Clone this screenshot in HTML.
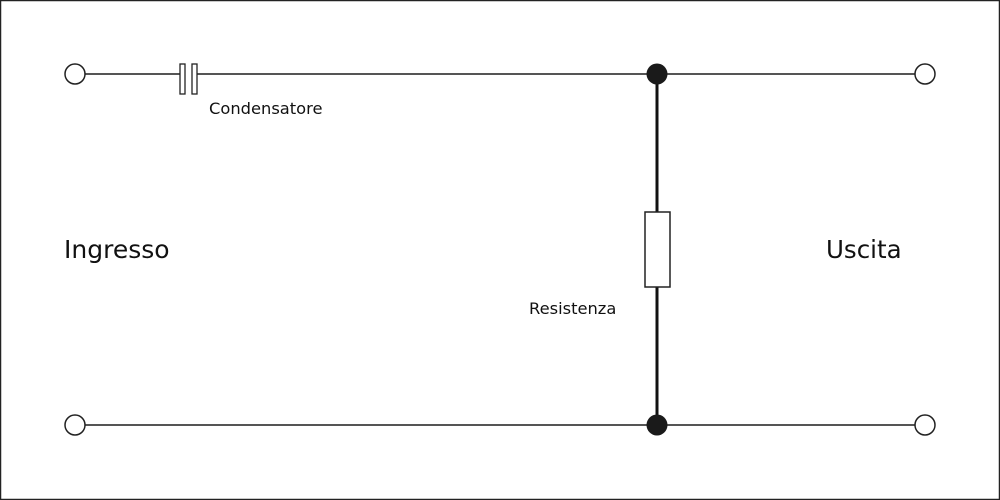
<!DOCTYPE html>
<html><head><style>body{margin:0;background:#fff}svg{display:block}</style></head><body>
<svg width="1000" height="500" xmlns="http://www.w3.org/2000/svg" font-family="'DejaVu Sans','Liberation Sans',sans-serif">
<rect x="0.5" y="0.5" width="999" height="499" fill="#fff" stroke="#222" stroke-width="1.5"/>
<g stroke="#555" stroke-width="2" fill="none">
<line x1="85" y1="74" x2="180" y2="74"/>
<line x1="196" y1="74" x2="915" y2="74"/>
<line x1="85" y1="425" x2="915" y2="425"/>
</g>
<line x1="657" y1="74" x2="657" y2="425" stroke="#111" stroke-width="3"/>
<rect x="180" y="64" width="5" height="30" fill="#fff" stroke="#222" stroke-width="1.3"/>
<rect x="192" y="64" width="5" height="30" fill="#fff" stroke="#222" stroke-width="1.3"/>
<rect x="645" y="212" width="25" height="75" fill="#fff" stroke="#222" stroke-width="1.5"/>
<g fill="#fff" stroke="#222" stroke-width="1.5">
<circle cx="75" cy="74" r="10"/><circle cx="925" cy="74" r="10"/>
<circle cx="75" cy="425" r="10"/><circle cx="925" cy="425" r="10"/>
</g>
<circle cx="657" cy="74" r="10.5" fill="#1a1a1a"/>
<circle cx="657" cy="425" r="10.5" fill="#1a1a1a"/>
<g fill="#111">
<text x="209" y="114" font-size="16.3">Condensatore</text>
<text x="529" y="314" font-size="16.3">Resistenza</text>
<text x="64" y="258" font-size="25">Ingresso</text>
<text x="826" y="258" font-size="24.5">Uscita</text>
</g>
</svg>
</body></html>
